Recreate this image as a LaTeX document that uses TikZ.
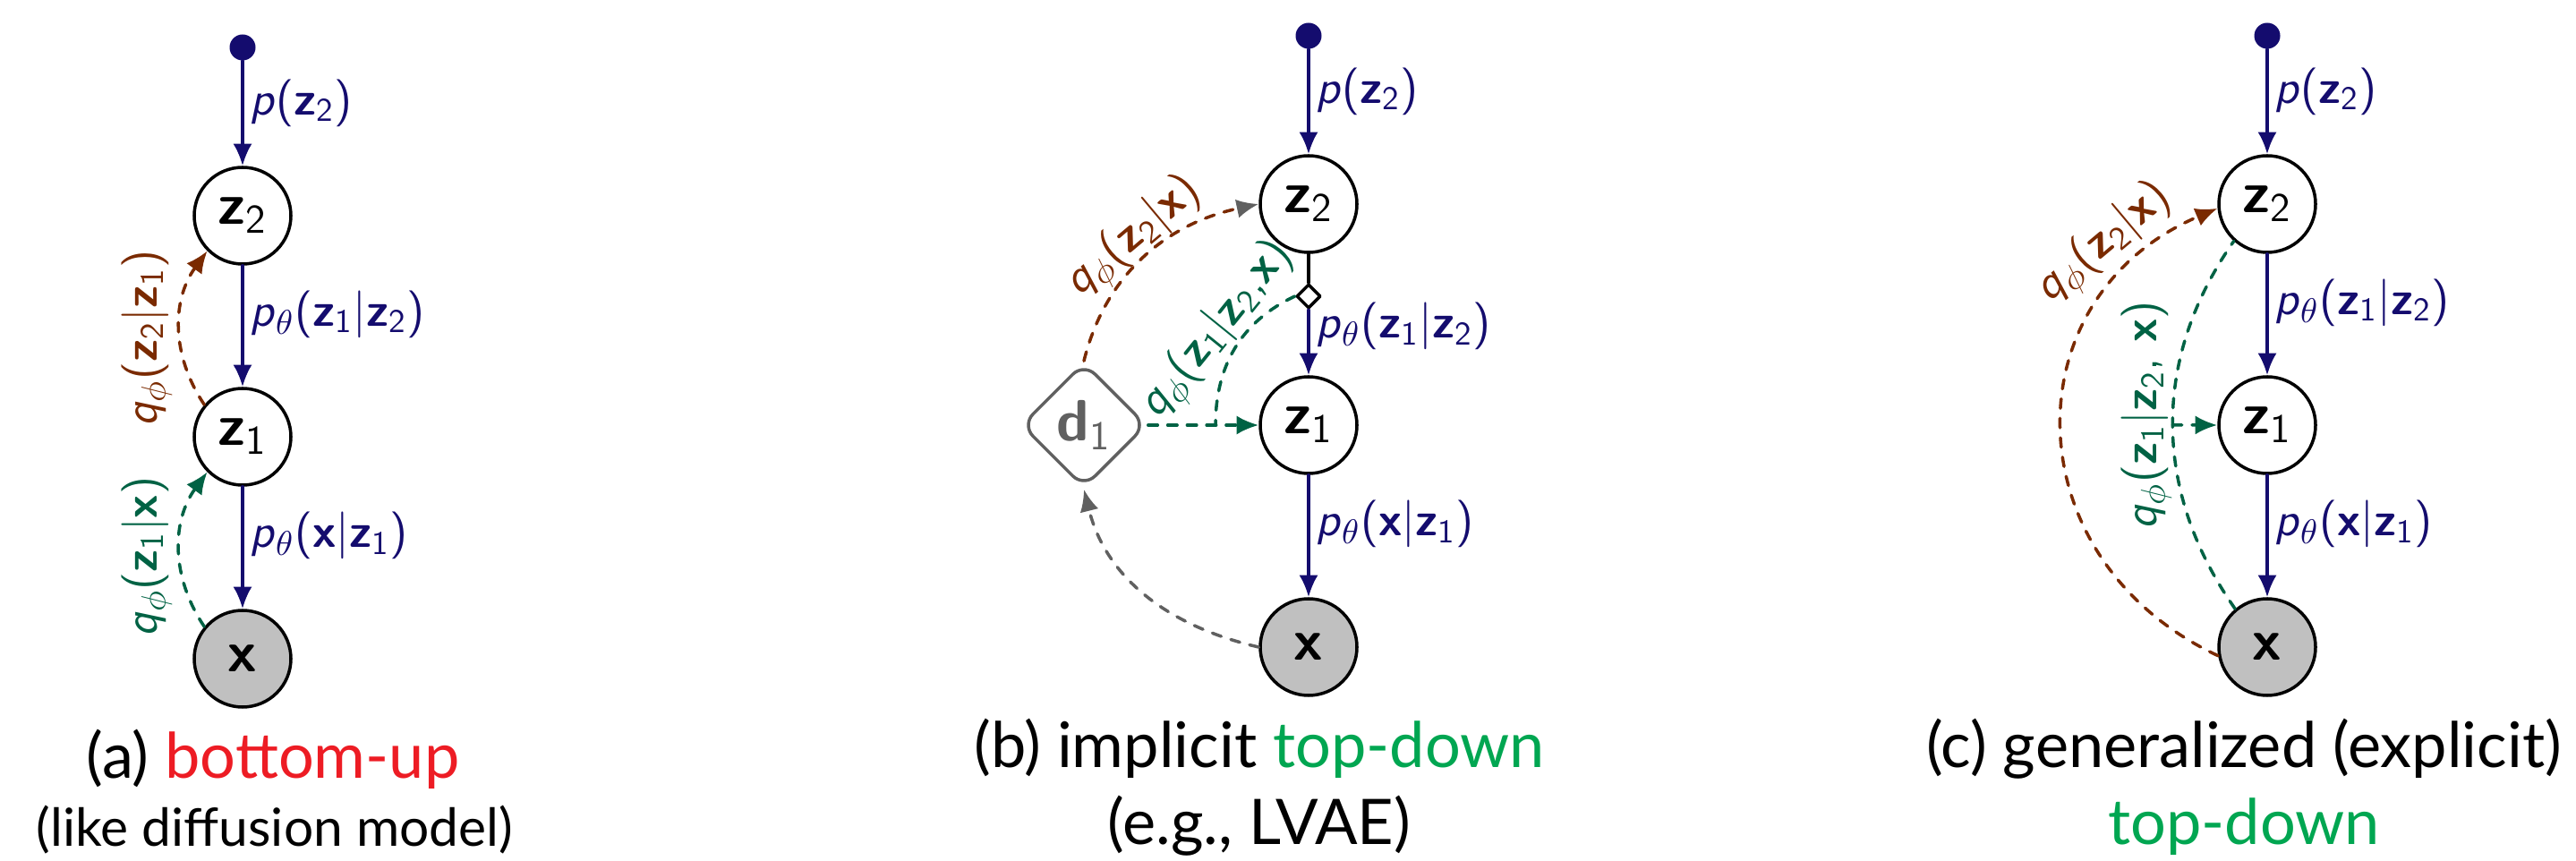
\documentclass[tikz,border=0pt]{standalone}
\usepackage{fontspec}
\setmainfont{Lato}
\usetikzlibrary{arrows.meta,shapes.geometric}

\definecolor{pnavy}{RGB}{20,12,110}
\definecolor{qbrown}{RGB}{122,42,0}
\definecolor{qgreen}{RGB}{0,98,68}
\definecolor{dgray}{RGB}{96,96,96}
\definecolor{obsgray}{RGB}{192,192,192}
\definecolor{capred}{RGB}{237,28,36}
\definecolor{capgreen}{RGB}{0,166,81}

\newcommand{\vecz}[1]{\textbf{z}\textsubscript{\mdseries #1}}
\newcommand{\vecx}{\textbf{x}}
\newcommand{\vecd}[1]{\textbf{d}\textsubscript{\mdseries #1}}
\newcommand{\ptheta}{\textit{p}$_\theta$}
\newcommand{\qphi}{\textit{q}$_\phi$}

\begin{document}
\begin{tikzpicture}[line cap=round,line join=round,
    latent/.style={circle,draw,line width=1pt,minimum size=1.08cm,inner sep=0pt,
      font=\sffamily\fontsize{18.5}{20}\selectfont},
    observed/.style={latent,fill=obsgray},
    prior/.style={circle,fill=pnavy,minimum size=0.29cm,inner sep=0pt},
    gen/.style={pnavy,line width=1pt,-{Latex[length=7pt,width=6pt]}},
    inf/.style={infline,-{Latex[length=7pt,width=6pt]}},
    infline/.style={dash pattern=on 3pt off 3.2pt,line width=1pt},
    lbl/.style={right,inner sep=2pt,font=\sffamily\fontsize{15}{18}\selectfont},
    captext/.style={anchor=base,inner sep=0pt,font=\fontsize{20}{24}\selectfont}]
  \useasboundingbox (0,0) rectangle (28.78,9.61);
  \foreach \p/\cx/\dy in {a/2.71/-0.13,b/14.62/0,c/25.33/0}{
    \node[prior] (\p0) at (\cx,9.21+\dy) {};
    \node[latent] (\p2) at (\cx,7.33+\dy) {\vecz{2}};
    \node[latent] (\p1) at (\cx,4.86+\dy) {\vecz{1}};
    \node[observed] (\p x) at (\cx,2.38+\dy) {\vecx};
    \draw[gen] (\p0) -- (\p2) node[lbl,text=pnavy,pos=.4] {\textit{p}(\vecz{2})};
    \draw[gen] (\p1) -- (\p x) node[lbl,text=pnavy,pos=.4] {\ptheta(\vecx|\vecz{1})};
  }
  \draw[gen] (a2) -- (a1) node[lbl,text=pnavy,pos=.4] {\ptheta(\vecz{1}|\vecz{2})};
  \draw[gen] (c2) -- (c1) node[lbl,text=pnavy,pos=.4] {\ptheta(\vecz{1}|\vecz{2})};
  \draw[inf,qbrown] (a1.140) to[bend left=35] (a2.225);
  \draw[inf,qgreen] (ax.140) to[bend left=35] (a1.225);
  \node[lbl,anchor=center,rotate=90,text=qbrown] (qa2) at (1.64,5.83) {\qphi(\vecz{2}|\vecz{1})};
  \node[lbl,anchor=center,rotate=90,text=qgreen] (qa1) at (1.64,3.39) {\qphi(\vecz{1}|\vecx)};

  \node[diamond,draw=dgray,rounded corners=5pt,line width=1pt,minimum size=1.4cm,inner sep=0pt,
    text=dgray,font=\sffamily\fontsize{18.5}{20}\selectfont] (bd) at (12.11,4.86) {\vecd{1}};
  \node[diamond,draw,fill=white,line width=1pt,minimum size=0.27cm,inner sep=0pt] (bs) at (14.62,6.30) {};
  \draw[line width=1pt] (b2) -- (bs);
  \draw[gen] (bs) -- (b1) node[lbl,text=pnavy,pos=.25] {\ptheta(\vecz{1}|\vecz{2})};
  \draw[inf,qbrown,-{Latex[length=7pt,width=6pt,color=dgray]}] (bd.north) to[out=76,in=192] (b2.west);
  \draw[inf,dgray] (bx.west) to[out=167,in=-76] (bd.south);
  \coordinate (jb) at (13.58,4.86);
  \draw[inf,qgreen] (bd.east) -- (b1.west);
  \draw[infline,qgreen] (bs.west) to[out=205,in=90] (jb);
  \node[lbl,anchor=center,rotate=40,text=qbrown] (qb2) at (12.67,6.96) {\qphi(\vecz{2}|\vecx)};
  \node[lbl,anchor=center,rotate=51,text=qgreen] (qb1) at (13.60,5.92) {\qphi(\vecz{1}|\vecz{2},\vecx)};

  \draw[inf,qbrown] (cx.190) to[out=155,in=203,looseness=1.3] (c2.185);
  \draw[infline,qgreen] (cx.130) to[out=125,in=235] coordinate[pos=.5] (jc) (c2.228);
  \draw[inf,qgreen] (jc) -- (c1.west);
  \node[lbl,anchor=center,rotate=40,text=qbrown] (qc2) at (23.51,6.89) {\qphi(\vecz{2}|\vecx)};
  \node[lbl,anchor=center,rotate=90,text=qgreen] (qc1) at (23.98,4.97) {\qphi(\vecz{1}|\vecz{2}, \vecx)};

  \node[captext] (capa) at (3.05,0.92) {(a) \textcolor{capred}{bottom-up}};
  \node[captext,font=\fontsize{16.7}{20}\selectfont] (capa2) at (3.07,0.16) {(like diffusion model)};
  \node[captext] (capb) at (14.07,1.04) {(b) implicit \textcolor{capgreen}{top-down}};
  \node[captext] (capb2) at (14.07,0.18) {(e.g., LVAE)};
  \node[captext] (capc) at (25.07,1.04) {(c) generalized (explicit)};
  \node[captext] (capc2) at (25.07,0.18) {\textcolor{capgreen}{top-down}};
\end{tikzpicture}
\end{document}
